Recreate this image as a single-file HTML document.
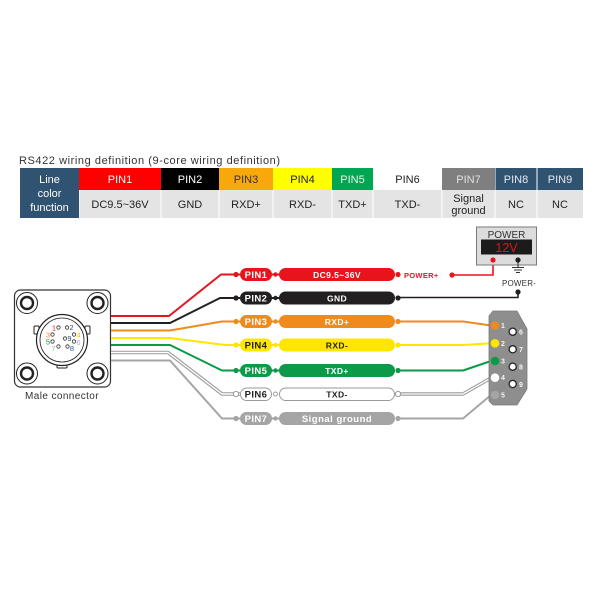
<!DOCTYPE html>
<html><head><meta charset="utf-8"><style>html,body{margin:0;padding:0;background:#fff}svg{display:block}</style></head>
<body>
<svg width="600" height="600" viewBox="0 0 600 600" xmlns="http://www.w3.org/2000/svg" font-family="'Liberation Sans', Arial, sans-serif">
<rect width="600" height="600" fill="#fff"/>
<!-- Table -->
<text x="19" y="164" font-size="11" fill="#333" textLength="261">RS422 wiring definition (9-core wiring definition)</text>
<rect x="20" y="168" width="59" height="50" fill="#2f5371"/>
<g font-size="11" fill="#fff" text-anchor="middle">
<text x="49.5" y="183">Line</text><text x="49.5" y="197">color</text><text x="49.5" y="211">function</text>
</g>
<rect x="79" y="168" width="82" height="22" fill="#ff0000"/>
<rect x="161" y="168" width="58" height="22" fill="#000"/>
<rect x="219" y="168" width="54" height="22" fill="#f9a80c"/>
<rect x="273" y="168" width="59" height="22" fill="#ffff00"/>
<rect x="332" y="168" width="41" height="22" fill="#00a651"/>
<rect x="442" y="168" width="53" height="22" fill="#7f7f7f"/>
<rect x="495.5" y="168" width="41" height="22" fill="#2f5371"/>
<rect x="537.5" y="168" width="45.5" height="22" fill="#2f5371"/>
<g font-size="11" text-anchor="middle">
<text x="120" y="183" fill="#fff">PIN1</text>
<text x="190" y="183" fill="#fff">PIN2</text>
<text x="246" y="183" fill="#333">PIN3</text>
<text x="302.5" y="183" fill="#222">PIN4</text>
<text x="352.5" y="183" fill="#e8f8ec">PIN5</text>
<text x="407.5" y="183" fill="#222">PIN6</text>
<text x="468.5" y="183" fill="#e0e0e0">PIN7</text>
<text x="516" y="183" fill="#e4e8f0">PIN8</text>
<text x="560" y="183" fill="#e4e8f0">PIN9</text>
</g>
<g fill="#e4e4e4">
<rect x="79.5" y="190" width="81" height="28"/>
<rect x="161.5" y="190" width="57" height="28"/>
<rect x="219.5" y="190" width="53" height="28"/>
<rect x="273.5" y="190" width="58" height="28"/>
<rect x="332.5" y="190" width="40" height="28"/>
<rect x="373.5" y="190" width="68" height="28"/>
<rect x="442.5" y="190" width="52" height="28"/>
<rect x="495.5" y="190" width="41" height="28"/>
<rect x="537.5" y="190" width="45.5" height="28"/>
</g>
<g font-size="11" fill="#222" text-anchor="middle">
<text x="120" y="208">DC9.5~36V</text>
<text x="190" y="208">GND</text>
<text x="246" y="208">RXD+</text>
<text x="302.5" y="208">RXD-</text>
<text x="352.5" y="208">TXD+</text>
<text x="407.5" y="208">TXD-</text>
<text x="468.5" y="202">Signal</text>
<text x="468.5" y="214">ground</text>
<text x="516" y="208">NC</text>
<text x="560" y="208">NC</text>
</g>

<!-- Male connector -->
<rect x="14.5" y="290" width="96" height="97" rx="6" fill="#fff" stroke="#333" stroke-width="1.2"/>
<g fill="#fff" stroke="#222">
<circle cx="27" cy="303" r="10.5" stroke-width="1"/><circle cx="27" cy="303" r="6" stroke-width="2.4"/>
<circle cx="97.5" cy="303" r="10.5" stroke-width="1"/><circle cx="97.5" cy="303" r="6" stroke-width="2.4"/>
<circle cx="27" cy="373.5" r="10.5" stroke-width="1"/><circle cx="27" cy="373.5" r="6" stroke-width="2.4"/>
<circle cx="97.5" cy="373.5" r="10.5" stroke-width="1"/><circle cx="97.5" cy="373.5" r="6" stroke-width="2.4"/>
<rect x="57" y="362" width="10" height="6" rx="1" stroke-width="1"/>
<rect x="34" y="326" width="5" height="8" rx="1" stroke-width="1"/>
<rect x="85" y="326" width="5" height="8" rx="1" stroke-width="1"/>
<circle cx="62" cy="340" r="25.5" stroke-width="1.2"/>
<circle cx="62" cy="340" r="22" stroke-width="0.8"/>
</g>
<g fill="none" stroke="#333" stroke-width="0.8">
<circle cx="58.5" cy="327.5" r="1.7"/><circle cx="67" cy="327.5" r="1.7"/>
<circle cx="52.5" cy="334.5" r="1.7"/><circle cx="74" cy="334.5" r="1.7"/>
<circle cx="65" cy="338.5" r="1.7"/>
<circle cx="52.5" cy="341.5" r="1.7"/><circle cx="74" cy="341.5" r="1.7"/>
<circle cx="58.5" cy="346.5" r="1.7"/><circle cx="67.5" cy="346.5" r="1.7"/>
</g>
<g font-size="7.5" text-anchor="middle">
<text x="54" y="330.5" fill="#e0202a">1</text>
<text x="71.5" y="330" fill="#2a4a78">2</text>
<text x="48" y="337.5" fill="#f08a1d">3</text>
<text x="78.5" y="337.5" fill="#f0c000">4</text>
<text x="69.5" y="341" fill="#2a4a78">9</text>
<text x="48" y="344.5" fill="#0a9a48">5</text>
<text x="78.5" y="345" fill="#b0a8c8">6</text>
<text x="53.5" y="351" fill="#9ab8b0">7</text>
<text x="72" y="351" fill="#2a5a98">8</text>
</g>
<text x="62" y="399" font-size="10" fill="#333" text-anchor="middle" letter-spacing="0.4">Male connector</text>

<!-- Left wires -->
<g fill="none" stroke-width="2" stroke-linejoin="round">
<polyline points="111,316 169,316 221,274.5 240,274.5" stroke="#e8141c"/>
<polyline points="111,323 170,323 220,298 240,298" stroke="#231f20"/>
<polyline points="111,330.5 170,330.5 222,321.5 240,321.5" stroke="#f08a1d"/>
<polyline points="111,338 170,338 225,345 240,345" stroke="#ffe600"/>
<polyline points="111,345 170,345 222,370.5 240,370.5" stroke="#0a9a48"/>
<polyline points="111,352.5 168,352.5 222,394 240,394" stroke="#9a9a9a" stroke-width="3.6"/>
<polyline points="111,352.5 168,352.5 222,394 240,394" stroke="#fff" stroke-width="1.4"/>
<polyline points="111,360.5 170,360.5 222,418.5 240,418.5" stroke="#a5a5a5"/>
</g>

<!-- Right wires -->
<g fill="none" stroke-width="2" stroke-linejoin="round">
<polyline points="452,275 493,275 493,260" stroke="#e8141c" stroke-width="1.6"/>
<polyline points="398,297.5 518,297.5 518,292" stroke="#231f20" stroke-width="1.6"/>
<polyline points="398,321.5 463,321.5 491,325.5" stroke="#f08a1d"/>
<polyline points="398,345 463,345 491,343.3" stroke="#ffe600"/>
<polyline points="398,370.5 463,370.5 491,361" stroke="#0a9a48"/>
<polyline points="398,394 463,394 491,378" stroke="#9a9a9a" stroke-width="3.4"/>
<polyline points="398,394 463,394 491,378" stroke="#fff" stroke-width="1.3"/>
<polyline points="398,418.5 463,418.5 491,395" stroke="#a5a5a5"/>
</g>

<!-- Pills -->
<g font-weight="bold" text-anchor="middle">
<!-- PIN1 -->
<g fill="#e8141c"><circle cx="236" cy="274.5" r="2.6"/><circle cx="275.5" cy="274.5" r="2.2"/><circle cx="398" cy="274.5" r="2.6"/>
<rect x="240" y="268" width="32" height="13" rx="6.5"/><rect x="279" y="268" width="116" height="13" rx="6.5"/></g>
<rect x="271" y="273.5" width="9" height="2" fill="#e8141c"/>
<text x="256" y="278" font-size="9.5" fill="#fff" letter-spacing="0.4">PIN1</text>
<text x="337" y="278" font-size="8.5" fill="#fff" letter-spacing="0.4">DC9.5~36V</text>
<!-- PIN2 -->
<g fill="#231f20"><circle cx="236" cy="298" r="2.6"/><circle cx="275.5" cy="298" r="2.2"/><circle cx="398" cy="298" r="2.6"/>
<rect x="240" y="291.5" width="32" height="13" rx="6.5"/><rect x="279" y="291.5" width="116" height="13" rx="6.5"/></g>
<rect x="271" y="297" width="9" height="2" fill="#231f20"/>
<text x="256" y="301.5" font-size="9.5" fill="#fff" letter-spacing="0.4">PIN2</text>
<text x="337" y="301.5" font-size="8.5" fill="#fff" letter-spacing="0.4">GND</text>
<!-- PIN3 -->
<g fill="#f08a1d"><circle cx="236" cy="321.5" r="2.6"/><circle cx="275.5" cy="321.5" r="2.2"/><circle cx="398" cy="321.5" r="2.6"/>
<rect x="240" y="315" width="32" height="13" rx="6.5"/><rect x="279" y="315" width="116" height="13" rx="6.5"/></g>
<rect x="271" y="320.5" width="9" height="2" fill="#f08a1d"/>
<text x="256" y="325" font-size="9.5" fill="#fff" letter-spacing="0.4">PIN3</text>
<text x="337" y="325" font-size="8.5" fill="#fff" letter-spacing="0.4">RXD+</text>
<!-- PIN4 -->
<g fill="#ffe600"><circle cx="236" cy="345" r="2.6"/><circle cx="275.5" cy="345" r="2.2"/><circle cx="398" cy="345" r="2.6"/>
<rect x="240" y="338.5" width="32" height="13" rx="6.5"/><rect x="279" y="338.5" width="116" height="13" rx="6.5"/></g>
<rect x="271" y="344" width="9" height="2" fill="#ffe600"/>
<text x="256" y="348.5" font-size="9.5" fill="#222" letter-spacing="0.4">PIN4</text>
<text x="337" y="348.5" font-size="8.5" fill="#222" letter-spacing="0.4">RXD-</text>
<!-- PIN5 -->
<g fill="#0a9a48"><circle cx="236" cy="370.5" r="2.6"/><circle cx="275.5" cy="370.5" r="2.2"/><circle cx="398" cy="370.5" r="2.6"/>
<rect x="240" y="364" width="32" height="13" rx="6.5"/><rect x="279" y="364" width="116" height="13" rx="6.5"/></g>
<rect x="271" y="369.5" width="9" height="2" fill="#0a9a48"/>
<text x="256" y="374" font-size="9.5" fill="#fff" letter-spacing="0.4">PIN5</text>
<text x="337" y="374" font-size="8.5" fill="#fff" letter-spacing="0.4">TXD+</text>
<!-- PIN6 -->
<g fill="#fff" stroke="#9a9a9a" stroke-width="1"><circle cx="236" cy="394" r="2.6"/><circle cx="275.5" cy="394" r="2"/><circle cx="398" cy="394" r="2.6"/>
<rect x="240.5" y="388" width="31" height="12.5" rx="6.2"/><rect x="279.5" y="388" width="115" height="12.5" rx="6.2"/></g>
<text x="256" y="397.5" font-size="9.5" fill="#222" letter-spacing="0.4">PIN6</text>
<text x="337" y="397.5" font-size="8.5" fill="#222" letter-spacing="0.4">TXD-</text>
<!-- PIN7 -->
<g fill="#a5a5a5"><circle cx="236" cy="418.5" r="2.6"/><circle cx="275.5" cy="418.5" r="2.2"/><circle cx="398" cy="418.5" r="2.6"/>
<rect x="240" y="412" width="32" height="13" rx="6.5"/><rect x="279" y="412" width="116" height="13" rx="6.5"/></g>
<rect x="271" y="417.5" width="9" height="2" fill="#a5a5a5"/>
<text x="256" y="422" font-size="9.5" fill="#fff" letter-spacing="0.4">PIN7</text>
<text x="337" y="422" font-size="9.5" fill="#fff" letter-spacing="0.5">Signal ground</text>
</g>

<!-- POWER+ -->
<text x="404" y="278" font-size="7.5" font-weight="bold" fill="#e8141c" letter-spacing="0.3">POWER+</text>
<circle cx="452" cy="275" r="2.6" fill="#e8141c"/>

<!-- Power box -->
<rect x="476.5" y="227" width="60" height="38" fill="#dcdcdc" stroke="#7a7a7a" stroke-width="1"/>
<text x="506.5" y="238" font-size="10" fill="#333" text-anchor="middle">POWER</text>
<rect x="481" y="239.5" width="51" height="15" fill="#1b1b1b"/>
<text x="506.5" y="252" font-size="12.5" fill="#d81818" text-anchor="middle">12V</text>
<circle cx="493" cy="260" r="2.6" fill="#e8141c"/>
<circle cx="518" cy="260" r="2.6" fill="#231f20"/>
<line x1="518" y1="260" x2="518" y2="267" stroke="#231f20" stroke-width="1"/>
<g stroke="#333" stroke-width="1">
<line x1="512" y1="267.5" x2="524" y2="267.5"/>
<line x1="514" y1="270" x2="522" y2="270"/>
<line x1="516" y1="272.5" x2="520" y2="272.5"/>
</g>
<text x="519" y="286" font-size="8" fill="#333" text-anchor="middle" letter-spacing="0.2">POWER-</text>
<circle cx="518" cy="292" r="2.6" fill="#231f20"/>

<!-- DB9 -->
<polygon points="489,316 493,311 517,311 527,329 527,389 517,405 493,405 489,401" fill="#8e8e8e" stroke="#7a7a7a" stroke-width="0.8"/>
<circle cx="495" cy="325.5" r="4.3" fill="#f08a1d"/>
<circle cx="495" cy="343.3" r="4.3" fill="#ffe600"/>
<circle cx="495" cy="361" r="4.3" fill="#0a9a48"/>
<circle cx="495" cy="377.7" r="4.3" fill="#fff"/>
<circle cx="495" cy="395" r="4.3" fill="#a5a5a5"/>
<g fill="#fff" stroke="#222" stroke-width="1.3">
<circle cx="512.7" cy="331.7" r="3.6"/>
<circle cx="512.7" cy="349.3" r="3.6"/>
<circle cx="512.7" cy="366.7" r="3.6"/>
<circle cx="512.7" cy="384" r="3.6"/>
</g>
<g font-size="7" font-weight="bold" fill="#f4f4f4">
<text x="501" y="328">1</text><text x="501" y="345.8">2</text><text x="501" y="363.5">3</text><text x="501" y="380.2">4</text><text x="501" y="397.5">5</text>
<text x="519" y="334.5">6</text><text x="519" y="352">7</text><text x="519" y="369.5">8</text><text x="519" y="386.8">9</text>
</g>
</svg>
</body></html>
